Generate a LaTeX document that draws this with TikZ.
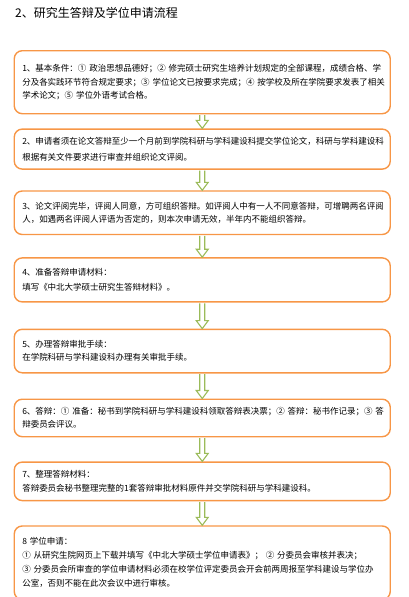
\documentclass[tikz,border=0pt]{standalone}
\usepackage{fontspec}
\newfontfamily\cjk{Noto Sans CJK SC}
\usetikzlibrary{positioning,calc}
\definecolor{boxorange}{HTML}{F79646}
\definecolor{arrowgreen}{HTML}{9BBB59}
\tikzset{
  stepbox/.style={
    draw=boxorange,
    line width=1.4pt,
    rectangle,
    rounded corners=8pt,
    minimum width=376pt,
    text width=360pt,
    inner xsep=8pt,
    align=left,
    font=\cjk\fontsize{8.5}{13.3}\selectfont,
  },
  widelines/.style={
    font=\cjk\fontsize{8.5}{15.5}\selectfont
  },
  flow/.style={
    draw=arrowgreen,
    line width=1.1pt,
    fill=white,
    to path={
      ($(\tikztostart)+(-2.5pt,-0.7pt)$) -- ($(\tikztotarget)+(-2.5pt,8pt)$)
      -- ($(\tikztotarget)+(-6pt,8pt)$) -- (\tikztotarget)
      -- ($(\tikztotarget)+(6pt,8pt)$) -- ($(\tikztotarget)+(2.5pt,8pt)$)
      -- ($(\tikztostart)+(2.5pt,-0.7pt)$)
    }
  }
}

\begin{document}
\begin{tikzpicture}[node distance=24pt]
  \useasboundingbox (0,0) rectangle (409pt,-597pt);

  \node[anchor=west, font=\cjk\fontsize{12}{14}\selectfont, inner sep=0pt] (title) at (15pt,-13pt) {2、研究生答辩及学位申请流程};

  \node[stepbox, minimum height=63pt, anchor=north] (b1) at (202.25pt,-50pt)
    {1、基本条件：①~政治思想品德好；②~修完硕士研究生培养计划规定的全部课程，成绩合格、学\\
     分及各实践环节符合规定要求；③~学位论文已按要求完成；④~按学校及所在学院要求发表了相关\\
     学术论文；⑤~学位外语考试合格。};
  \node[stepbox, widelines, minimum height=40pt, below=14pt of b1] (b2)
    {2、申请者须在论文答辩至少一个月前到学院科研与学科建设科提交学位论文，科研与学科建设科\\
     根据有关文件要求进行审查并组织论文评阅。};
  \node[stepbox, minimum height=43.5pt, below=20.5pt of b2] (b3)
    {3、论文评阅完毕，评阅人同意，方可组织答辩。如评阅人中有一人不同意答辩，可增聘两名评阅\\
     人，如遇两名评阅人评语为否定的，则本次申请无效，半年内不能组织答辩。};
  \node[stepbox, widelines, minimum height=44pt, below=22pt of b3] (b4)
    {4、准备答辩申请材料：\\
     填写《中北大学硕士研究生答辩材料》。};
  \node[stepbox, minimum height=43.5pt, below=26pt of b4] (b5)
    {5、办理答辩审批手续：\\
     在学院科研与学科建设科办理有关审批手续。};
  \node[stepbox, minimum height=37.5pt, below=25pt of b5] (b6)
    {6、答辩：①~准备：秘书到学院科研与学科建设科领取答辩表决票；②~答辩：秘书作记录；③~答\\
     辩委员会评议。};
  \node[stepbox, minimum height=38.5pt, below=of b6] (b7)
    {7、整理答辩材料：\\
     答辩委员会秘书整理完整的1套答辩审批材料原件并交学院科研与学科建设科。};
  \node[stepbox, font=\cjk\fontsize{8.5}{14}\selectfont, minimum height=73.5pt, below=of b7] (b8)
    {8 学位申请：\\
     ①~从研究生院网页上下载并填写《中北大学硕士学位申请表》；~②~分委员会审核并表决；\\
     ③~分委员会所审查的学位申请材料必须在校学位评定委员会开会前两周报至学科建设与学位办\\
     公室，否则不能在此次会议中进行审核。};

  \draw[flow] (b1.south) to (b2.north);
  \draw[flow] (b2.south) to (b3.north);
  \draw[flow] (b3.south) to (b4.north);
  \draw[flow] (b4.south) to (b5.north);
  \draw[flow] (b5.south) to (b6.north);
  \draw[flow] (b6.south) to (b7.north);
  \draw[flow] (b7.south) to (b8.north);
\end{tikzpicture}
\end{document}
